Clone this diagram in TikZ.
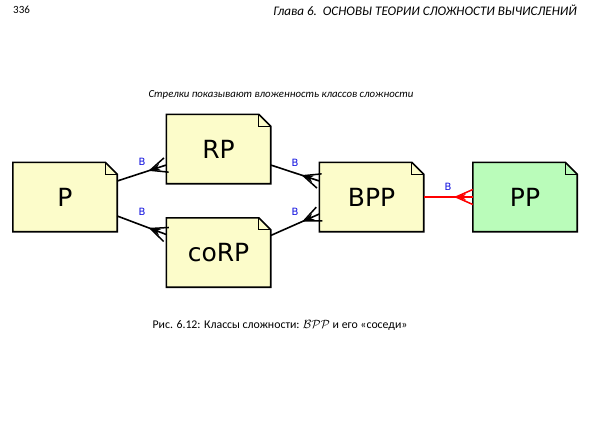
\documentclass[tikz,border=0pt]{standalone}
\usepackage{fontspec}
\setmainfont{Carlito}
\newfontfamily\dvs{DejaVu Sans}
\usetikzlibrary{calc}
\definecolor{noteyellow}{HTML}{FCFCCA}
\definecolor{notegreen}{HTML}{BAFCBA}
\definecolor{lblblue}{HTML}{1010E0}
\tikzset{
  notebox/.style={minimum width=104pt,minimum height=69pt,inner sep=0pt,font=\dvs\fontsize{25}{30}\selectfont},
  lbl/.style={font=\dvs\fontsize{10}{12}\selectfont,text=lblblue,inner sep=0pt},
  pagetext/.style={inner sep=0pt}
}
\newcommand{\drawnote}[2]{%
  \path[fill=#2,draw=black,line width=1.6pt,line join=miter]
    (#1.north west) -- ($(#1.north east)+(-12,0)$) -- ($(#1.north east)+(0,12)$)
    -- (#1.south east) -- (#1.south west) -- cycle;
  \draw[line width=1.1pt] ($(#1.north east)+(-12,0)$) -- ($(#1.north east)+(-12,12)$) -- ($(#1.north east)+(0,12)$);
}
\newcommand{\crowedge}[3]{%
  \draw[#3,line width=1.6pt] (#1) -- (#2);
  \coordinate (tip) at ($(#2)!17pt!(#1)$);
  \draw[#3,line width=1.5pt] ($(#2)!7.5pt!90:(#1)$) -- (tip) -- ($(#2)!7.5pt!-90:(#1)$);
  \fill[#3] (tip) -- ($(tip)!11pt!18:(#2)$) -- ($(tip)!7pt!(#2)$) -- ($(tip)!11pt!-18:(#2)$) -- cycle;
}
\begin{document}
\begin{tikzpicture}[x=1pt,y=-1pt]
\useasboundingbox (0,0) rectangle (596,420);
\fill[white] (0,0) rectangle (596,420);
% page text
\node[pagetext,anchor=west,font=\fontsize{11}{13}\selectfont] (pg) at (13,10) {336};
\node[pagetext,anchor=east,font=\itshape\fontsize{13.1}{15}\selectfont] (hd) at (577,10) {Глава 6.\ \ ОСНОВЫ ТЕОРИИ СЛОЖНОСТИ ВЫЧИСЛЕНИЙ};
\node[pagetext,font=\itshape\fontsize{10.8}{12}\selectfont] (cap1) at (281,95) {Стрелки показывают вложенность классов сложности};
\node[pagetext,font=\fontsize{11.8}{14}\selectfont] (cap2) at (280,325) {Рис. 6.12: Классы сложности: $\mathcal{BPP}$ и его «соседи»};
% nodes
\node[notebox] (p) at (65,197) {};
\node[notebox] (rp) at (218.5,149) {};
\node[notebox] (corp) at (218.5,252.5) {};
\node[notebox] (bpp) at (371.5,197) {};
\node[notebox] (pp) at (525,197) {};
\drawnote{p}{noteyellow}
\drawnote{rp}{noteyellow}
\drawnote{corp}{noteyellow}
\drawnote{bpp}{noteyellow}
\drawnote{pp}{notegreen}
\node[notebox] at (p) {P};
\node[notebox] at (rp) {RP};
\node[notebox] at (corp) {coRP};
\node[notebox] at (bpp) {BPP};
\node[notebox] at (pp) {PP};
% edge points
\coordinate (a1) at ($(p.east)+(0,-16)$);
\coordinate (b1) at ($(rp.west)+(0,16)$);
\coordinate (a2) at ($(p.east)+(0,19)$);
\coordinate (b2) at ($(corp.west)+(0,-18)$);
\coordinate (a3) at ($(rp.east)+(0,16)$);
\coordinate (b3) at ($(bpp.west)+(0,-16)$);
\coordinate (a4) at ($(corp.east)+(0,-17)$);
\coordinate (b4) at ($(bpp.west)+(0,17)$);
\coordinate (a5) at (bpp.east);
\coordinate (b5) at (pp.west);
\crowedge{a1}{b1}{black}
\crowedge{a2}{b2}{black}
\crowedge{a3}{b3}{black}
\crowedge{a4}{b4}{black}
\crowedge{a5}{b5}{red}
% labels
\node[lbl] (l1) at (142,162) {B};
\node[lbl] (l2) at (142,212) {B};
\node[lbl] (l3) at (295,163) {B};
\node[lbl] (l4) at (295,212) {B};
\node[lbl] (l5) at (448,187) {B};
\end{tikzpicture}
\end{document}
